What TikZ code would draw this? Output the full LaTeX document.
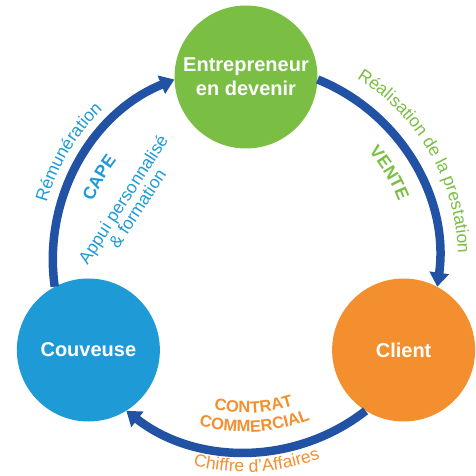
\documentclass[tikz,border=0pt]{standalone}
\usepackage{fontspec}
\setmainfont{Liberation Sans}
\usetikzlibrary{arrows.meta,decorations.text}
\definecolor{flowblue}{RGB}{33,82,163}
\definecolor{poleblue}{RGB}{30,155,215}
\definecolor{polegreen}{RGB}{122,190,67}
\definecolor{poleorange}{RGB}{243,143,46}
\begin{document}
\begin{tikzpicture}[x=1pt,y=1pt]
        \tikzstyle{pole}=[circle,inner sep=0pt,minimum size=143pt,text=white,align=center,font=\bfseries\fontsize{20}{24}\selectfont]
        \tikzstyle{flow}=[draw=flowblue,line width=8.5pt,-{Triangle[width=19pt,length=14pt]},looseness=0.954]
        \tikzstyle{curved}=[decorate,decoration={text along path,text align=center}]
        \useasboundingbox (-246,-217) rectangle (229,259);
       \begin{scope}
         \node [pole,fill=polegreen] (entrepreneur) at (90:182) {Entrepreneur\\en devenir};
         \node [pole,fill=poleblue] (couveuse) at (210:182) {Couveuse};
         \node [pole,fill=poleorange] (client) at (330:182) {Client};

         \path[flow] (couveuse.118) to[out=98,in=202] (entrepreneur.182);
         \path[flow] (entrepreneur.358) to[out=-22,in=82] (client.62);
         \path[flow] (client.238) to[out=218,in=322] (couveuse.302);
        \end{scope}

        % blue side
        \path[curved,decoration={text color=poleblue,text={|\fontsize{17.5}{20}\selectfont|Rémunération}}] (178:207) arc[start angle=178,end angle=120,radius=207];
        \path[curved,decoration={text color=poleblue,text={|\bfseries\fontsize{17.5}{20}\selectfont|CAPE}}] (176:163) arc[start angle=176,end angle=126,radius=163];
        \node [rotate=57,text=poleblue,align=center,font=\fontsize{17.5}{17}\selectfont] (appui) at (-116,55) {Appui personnalisé\\\& formation};

        % green side
        \path[curved,decoration={text color=polegreen,text={|\fontsize{17.5}{20}\selectfont|Réalisation de la prestation}}] (75:212) arc[start angle=75,end angle=-15,radius=212];
        \path[curved,decoration={text color=polegreen,text={|\bfseries\fontsize{17.5}{20}\selectfont|VENTE}}] (56:163) arc[start angle=56,end angle=6,radius=163];

        % orange side
        \path[curved,decoration={text color=poleorange,text={|\bfseries\fontsize{16.5}{20}\selectfont|CONTRAT}}] (-122:154) arc[start angle=-122,end angle=-52,radius=154];
        \path[curved,decoration={text color=poleorange,text={|\bfseries\fontsize{16.5}{20}\selectfont|COMMERCIAL}}] (-122:173) arc[start angle=-122,end angle=-52,radius=173];
        \path[curved,decoration={text color=poleorange,text={|\fontsize{17.5}{20}\selectfont|Chiffre d’Affaires}}] (-122:213) arc[start angle=-122,end angle=-52,radius=213];
      \end{tikzpicture}
\end{document}
